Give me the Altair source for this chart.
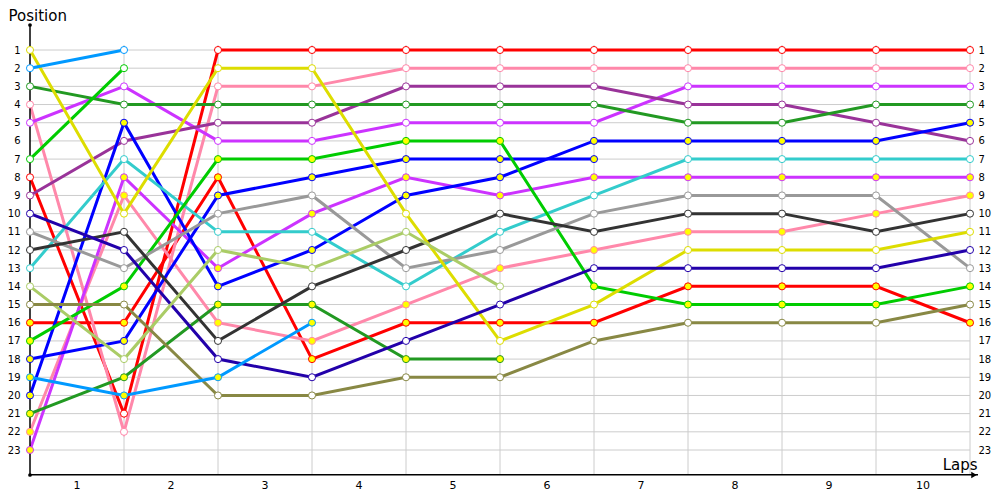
import altair as alt
import pandas as pd

# ---------------- data ----------------
lap_numbers = list(range(0, 11))
position_values = list(range(1, 24))
lap_label_values = [0.5, 1.5, 2.5, 3.5, 4.5, 5.5, 6.5, 7.5, 8.5, 9.5]
lap_label_texts = ["1", "2", "3", "4", "5", "6", "7", "8", "9", "10"]

driver_names = ["Red A", "Red B", "Pink A", "Pink B", "Violet A", "Violet B",
                "Purple", "DkGreen A", "DkGreen B", "Blue A", "Blue B", "Cyan",
                "Green A", "Green B", "Gray", "DkGray", "Yellow", "Navy",
                "LtGreen", "Olive", "LtBlue A", "LtBlue B"]
driver_colors = ["#ff0000", "#ff0000", "#ff88aa", "#ff88aa", "#cc33ff", "#cc33ff",
                 "#993399", "#229922", "#229922", "#0000ff", "#0000ff", "#33cccc",
                 "#00cc00", "#00cc00", "#999999", "#333333", "#dddd00", "#2200aa",
                 "#aacc66", "#888844", "#0099ff", "#0099ff"]
driver_markers = ["open", "stop", "open", "stop", "open", "stop",
                  "open", "open", "stop", "stop", "stop", "open",
                  "open", "stop", "open", "open", "open", "open",
                  "open", "open", "open", "stop"]

pos_red_a = [8, 21, 1, 1, 1, 1, 1, 1, 1, 1, 1]
pos_red_b = [16, 16, 8, 18, 16, 16, 16, 14, 14, 14, 16]
pos_pink_a = [4, 22, 3, 3, 2, 2, 2, 2, 2, 2, 2]
pos_pink_b = [22, 9, 16, 17, 15, 13, 12, 11, 11, 10, 9]
pos_violet_a = [5, 3, 6, 6, 5, 5, 5, 3, 3, 3, 3]
pos_violet_b = [23, 8, 13, 10, 8, 9, 8, 8, 8, 8, 8]
pos_purple = [9, 6, 5, 5, 3, 3, 3, 4, 4, 5, 6]
pos_dkgreen_a = [3, 4, 4, 4, 4, 4, 4, 5, 5, 4, 4]
pos_dkgreen_b = [21, 19, 15, 15, 18, 18]
pos_blue_a = [18, 17, 9, 8, 7, 7, 7]
pos_blue_b = [20, 5, 14, 12, 9, 8, 6, 6, 6, 6, 5]
pos_cyan = [13, 7, 11, 11, 14, 11, 9, 7, 7, 7, 7]
pos_green_a = [7, 2]
pos_green_b = [17, 14, 7, 7, 6, 6, 14, 15, 15, 15, 14]
pos_gray = [11, 13, 10, 9, 13, 12, 10, 9, 9, 9, 13]
pos_dkgray = [12, 11, 17, 14, 12, 10, 11, 10, 10, 11, 10]
pos_yellow = [1, 10, 2, 2, 10, 17, 15, 12, 12, 12, 11]
pos_navy = [10, 12, 18, 19, 17, 15, 13, 13, 13, 13, 12]
pos_ltgreen = [14, 18, 12, 13, 11, 14]
pos_olive = [15, 15, 20, 20, 19, 19, 17, 16, 16, 16, 15]
pos_ltblue_a = [2, 1]
pos_ltblue_b = [19, 20, 19, 16]

driver_positions = [pos_red_a, pos_red_b, pos_pink_a, pos_pink_b, pos_violet_a,
                    pos_violet_b, pos_purple, pos_dkgreen_a, pos_dkgreen_b,
                    pos_blue_a, pos_blue_b, pos_cyan, pos_green_a, pos_green_b,
                    pos_gray, pos_dkgray, pos_yellow, pos_navy, pos_ltgreen,
                    pos_olive, pos_ltblue_a, pos_ltblue_b]

rows = []
for name, mk, plist in zip(driver_names, driver_markers, driver_positions):
    for lap, p in zip(lap_numbers, plist):
        rows.append({"driver": name, "lap": lap, "pos": p, "marker": mk})
df = pd.DataFrame(rows)

# ---------------- scales / axes ----------------
X_MAX = 10.085
Y_TOP = -0.375
Y_BOTTOM = 24.375
GRID_TOP = 0.725
LAPS_TITLE_X = 9.71
FONT = "DejaVu Sans"

x_scale = alt.Scale(domain=[0, X_MAX], nice=False, zero=False)
y_scale = alt.Scale(domain=[Y_TOP, Y_BOTTOM], reverse=True, nice=False, zero=False)
stroke_scale = alt.Scale(domain=driver_names, range=driver_colors)
fill_scale = alt.Scale(domain=["open", "stop"], range=["#ffffff", "#ffff00"])

left_axis = alt.Axis(values=position_values, orient="left", domain=False,
                     ticks=False, grid=False,
                     labelFont=FONT, labelFontSize=10, labelColor="black",
                     labelPadding=10, title="Position", titleAngle=0, titleX=-22,
                     titleY=-10, titleAlign="left", titleBaseline="middle",
                     titleFont=FONT, titleFontSize=15, titleFontWeight="normal",
                     titleColor="black")
right_axis = alt.Axis(values=position_values, orient="right", domain=False,
                      ticks=False, grid=False, labelFont=FONT, labelFontSize=10,
                      labelColor="black", labelPadding=0, title="")

# ---------------- layers ----------------
hgrid_df = pd.DataFrame({"pos": position_values, "x0": 0, "x1": 10})
hgrid = alt.Chart(hgrid_df).mark_rule(color="#cccccc", strokeWidth=1).encode(
    y=alt.Y("pos:Q", scale=y_scale, axis=left_axis),
    x=alt.X("x0:Q", scale=x_scale, axis=None),
    x2="x1:Q",
)

vgrid_df = pd.DataFrame({"lap": lap_numbers[1:], "y0": GRID_TOP, "y1": Y_BOTTOM})
vgrid = alt.Chart(vgrid_df).mark_rule(color="#cccccc", strokeWidth=1).encode(
    x=alt.X("lap:Q", scale=x_scale, axis=None),
    y=alt.Y("y0:Q", scale=y_scale, axis=None),
    y2="y1:Q",
)

# y axis line (vertical, full height) at lap 0
yaxis_df = pd.DataFrame({"ax": [0.0], "ay0": [Y_TOP], "ay1": [Y_BOTTOM]})
yaxis_line = alt.Chart(yaxis_df).mark_rule(color="#000000", strokeWidth=1.5).encode(
    x=alt.X("ax:Q", scale=x_scale, axis=None),
    y=alt.Y("ay0:Q", scale=y_scale, axis=None),
    y2="ay1:Q",
)
# x axis line (horizontal) at the bottom of the plot
xaxis_df = pd.DataFrame({"ay": [Y_BOTTOM - 0.02], "ax0": [0.0], "ax1": [X_MAX]})
xaxis_line = alt.Chart(xaxis_df).mark_rule(color="#000000", strokeWidth=1.5).encode(
    y=alt.Y("ay:Q", scale=y_scale, axis=None),
    x=alt.X("ax0:Q", scale=x_scale, axis=None),
    x2="ax1:Q",
)

xlab_df = pd.DataFrame({"x": lap_label_values, "label": lap_label_texts,
                        "y": Y_BOTTOM})
xlabels = alt.Chart(xlab_df).mark_text(font=FONT, fontSize=11, color="black",
                                       align="center", baseline="middle",
                                       dy=11).encode(
    x=alt.X("x:Q", scale=x_scale, axis=None),
    y=alt.Y("y:Q", scale=y_scale, axis=None),
    text="label:N",
)

laps_df = pd.DataFrame({"x": [LAPS_TITLE_X], "y": [Y_BOTTOM], "label": ["Laps"]})
laps_title = alt.Chart(laps_df).mark_text(font=FONT, fontSize=15, color="black",
                                          align="left", baseline="alphabetic",
                                          dy=-5).encode(
    x=alt.X("x:Q", scale=x_scale, axis=None),
    y=alt.Y("y:Q", scale=y_scale, axis=None),
    text="label:N",
)

lines = alt.Chart(df).mark_line(strokeWidth=3).encode(
    x=alt.X("lap:Q", scale=x_scale, axis=None),
    y=alt.Y("pos:Q", scale=y_scale, axis=None),
    stroke=alt.Stroke("driver:N", scale=stroke_scale, legend=None),
    detail="driver:N",
    order=alt.Order("lap:Q"),
)

points = alt.Chart(df).mark_point(shape="circle", filled=True, size=50,
                                  strokeWidth=1, opacity=1).encode(
    x=alt.X("lap:Q", scale=x_scale, axis=None),
    y=alt.Y("pos:Q", scale=y_scale, axis=right_axis),
    stroke=alt.Stroke("driver:N", scale=stroke_scale, legend=None),
    fill=alt.Fill("marker:N", scale=fill_scale, legend=None),
)

ends_df = pd.DataFrame({"x": [0.0, 0.0], "y": [Y_TOP, Y_BOTTOM]})
dots = alt.Chart(ends_df).mark_point(shape="circle", filled=True, size=14,
                                     color="#000000", opacity=1).encode(
    x=alt.X("x:Q", scale=x_scale, axis=None),
    y=alt.Y("y:Q", scale=y_scale, axis=None),
)
arrow_df = pd.DataFrame({"x": [X_MAX], "y": [Y_BOTTOM]})
arrow = alt.Chart(arrow_df).mark_point(shape="triangle-right", filled=True,
                                       size=40, color="#000000", opacity=1,
                                       xOffset=-4).encode(
    x=alt.X("x:Q", scale=x_scale, axis=None),
    y=alt.Y("y:Q", scale=y_scale, axis=None),
)

chart = alt.layer(hgrid, vgrid, xlabels, laps_title, lines, yaxis_line,
                  xaxis_line, points, dots, arrow).resolve_axis(
    y="independent"
).properties(
    width=948,
    height=450,
    autosize=alt.AutoSizeParams(type="none"),
    padding={"left": 22, "top": 17, "right": 14, "bottom": 17},
    background="white",
).configure_view(stroke=None)

chart.save("out.html", embed_options={"renderer": "svg", "actions": False})
